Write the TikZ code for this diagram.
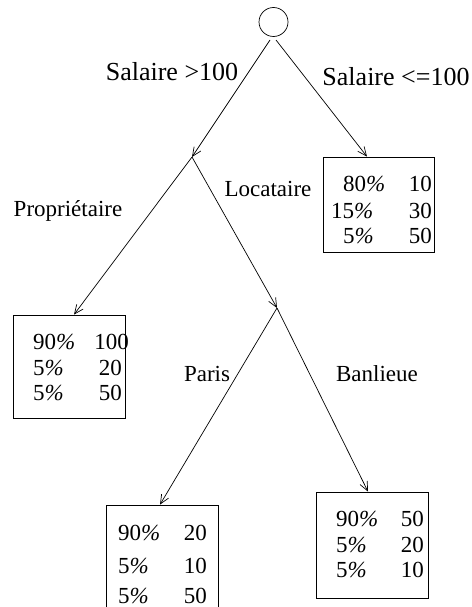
\documentclass[tikz,border=0pt]{standalone}
\usepackage{fontspec}
\setmainfont{Liberation Serif}
\usetikzlibrary{arrows.meta}

\tikzset{
  txt/.style={inner sep=0pt, font=\fontsize{23}{27}\selectfont},
  bigtxt/.style={inner sep=0pt, font=\fontsize{26}{30}\selectfont},
  leaf/.style={draw, inner sep=0pt, line width=0.8pt},
  edge/.style={line width=0.7pt, -{Straight Barb[length=9pt,width=8pt]}}
}
\newcommand{\pc}{\textit{\%}}

\begin{document}
\begin{tikzpicture}[x=1pt,y=-1pt]
\useasboundingbox (0,0) rectangle (471,607);

\node[draw, circle, minimum size=29pt, inner sep=0pt, line width=0.7pt] (root) at (273.5,22) {};
\coordinate (sal) at (192,157);
\coordinate (lieu) at (277,308);

\node[leaf, minimum width=111pt, minimum height=95pt] (leafR) at (378.5,204.5) {};
\node[leaf, minimum width=112pt, minimum height=103pt] (leafP) at (69,366.5) {};
\node[leaf, minimum width=112pt, minimum height=105pt] (leafPa) at (162,557.5) {};
\node[leaf, minimum width=112pt, minimum height=106pt] (leafB) at (372,545) {};

\draw[edge] ([shift={(-3.5,18)}]root.center) -- (sal);
\draw[edge] ([shift={(2.5,18)}]root.center) -- ([xshift=-11.5pt]leafR.north);
\draw[edge] (sal) -- ([xshift=5pt]leafP.north);
\draw[edge] (sal) -- (lieu);
\draw[edge] (lieu) -- ([xshift=-2pt]leafPa.north);
\draw[edge] (lieu) -- ([xshift=-4pt]leafB.north);

\node[bigtxt] (lsup) at (172,72) {Salaire >100};
\node[bigtxt] (linf) at (396,77) {Salaire <=100};
\node[txt] (lprop) at (68,211) {Propriétaire};
\node[txt] (lloc) at (268,189) {Locataire};
\node[txt] (lpar) at (207,374) {Paris};
\node[txt] (lban) at (377,374) {Banlieue};

% Salaire <=100
\node[txt, anchor=west] (r1a) at (343,184) {80\pc};
\node[txt, anchor=west] (r2a) at (331,211) {15\pc};
\node[txt, anchor=west] (r3a) at (343,236) {5\pc};
\node[txt, anchor=east] (r1b) at (432,184) {10};
\node[txt, anchor=east] (r2b) at (432,211) {30};
\node[txt, anchor=east] (r3b) at (432,236) {50};

% Proprietaire
\node[txt, anchor=west] (p1a) at (33,342) {90\pc};
\node[txt, anchor=west] (p2a) at (33,368) {5\pc};
\node[txt, anchor=west] (p3a) at (33,393) {5\pc};
\node[txt, anchor=east] (p1b) at (129,342) {100};
\node[txt, anchor=east] (p2b) at (122,368) {20};
\node[txt, anchor=east] (p3b) at (122,393) {50};

% Paris
\node[txt, anchor=west] (q1a) at (118,533) {90\pc};
\node[txt, anchor=west] (q2a) at (118,566) {5\pc};
\node[txt, anchor=west] (q3a) at (118,596) {5\pc};
\node[txt, anchor=east] (q1b) at (207,533) {20};
\node[txt, anchor=east] (q2b) at (207,566) {10};
\node[txt, anchor=east] (q3b) at (207,596) {50};

% Banlieue
\node[txt, anchor=west] (b1a) at (336,519) {90\pc};
\node[txt, anchor=west] (b2a) at (336,545) {5\pc};
\node[txt, anchor=west] (b3a) at (336,570) {5\pc};
\node[txt, anchor=east] (b1b) at (424,519) {50};
\node[txt, anchor=east] (b2b) at (424,545) {20};
\node[txt, anchor=east] (b3b) at (424,570) {10};
\end{tikzpicture}
\end{document}
